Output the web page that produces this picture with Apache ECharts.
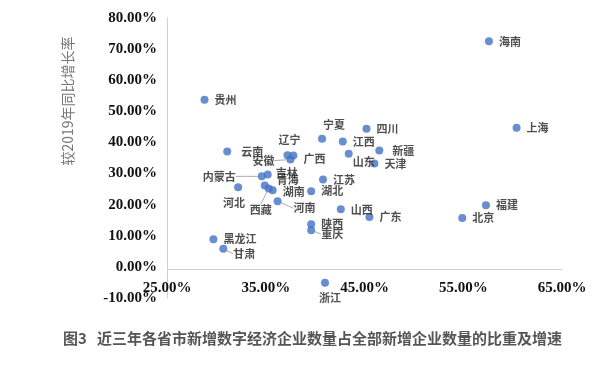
<!DOCTYPE html>
<html><head><meta charset="utf-8">
<script src="https://cdn.jsdelivr.net/npm/echarts@6/dist/echarts.min.js"></script>
<style>html,body{margin:0;padding:0;background:#fff}#c{width:611px;height:367px}</style>
</head><body><div id="c"></div>
<script>
const provinces = ['海南','上海','福建','北京','贵州','云南','辽宁','安徽','广西','内蒙古','吉林','青海','西藏','湖南','河北','河南','湖北','江苏','山西','广东','陕西','重庆','黑龙江','甘肃','浙江','宁夏','四川','江西','新疆','山东','天津'];
const shareRatio = [57.6,60.4,57.3,54.9,28.8,31.1,37.2,37.5,37.8,34.6,35.2,34.9,35.3,35.7,32.2,36.2,39.6,40.8,42.6,45.5,39.6,39.6,29.7,30.7,41.0,40.7,45.2,42.8,46.5,43.4,46.0];
const growthRate = [72.5,44.7,19.8,15.7,53.7,37.1,35.9,34.5,35.8,29.1,29.7,26.2,25.2,24.6,25.6,21.1,24.3,28.1,18.5,16.0,13.7,11.8,8.9,5.8,-5.1,41.2,44.4,40.3,37.4,36.4,33.2];
const xTicks = {min:25, max:65, interval:10};
const yTicks = {min:-10, max:80, interval:10};
const yName = '较2019年同比增长率';
const caption = '图3   近三年各省市新增数字经济企业数量占全部新增企业数量的比重及增速';

// label placement (style only): position, dx, dy, leader line
const placement = {
  '辽宁':['top',2,0,false], '安徽':['left',-6,1,true], '广西':['right',0,3,false],
  '内蒙古':['left',-16,0,true], '吉林':['right',-2,-2,false], '青海':['right',2,-6,false],
  '湖南':['right',0,1,false], '西藏':['bottom',-8,6,true], '河北':['bottom',-4,0,false],
  '河南':['right',6,7,true], '宁夏':['top',12,2,false], '山东':['right',-6,8,false],
  '新疆':['right',3,0,false], '重庆':['right',0,4,true], '甘肃':['right',0,5,true],
  '浙江':['bottom',5,0,false], '云南':['right',4,0,false]
};

const data = provinces.map((n,i)=>{
  const p = placement[n] || ['right',0,0,false];
  return {name:n, value:[shareRatio[i], growthRate[i]],
    label:{position:p[0]}, labelLine:{show:p[3]}};
});

const chart = echarts.init(document.getElementById('c'));
const pct = v => v.toFixed(2)+'%';
chart.setOption({
  animation:false,
  title:{text:caption, left:58, top:326, textStyle:{fontSize:15, fontWeight:'bold', color:'#555', fontFamily:'Noto Sans CJK SC'}},
  graphic:[{type:'text', x:68, y:101, rotation:Math.PI/2,
    style:{text:yName, fill:'#777', fontSize:14, fontFamily:'Noto Sans CJK SC', align:'center', verticalAlign:'middle'}}],
  grid:{left:167, right:49, top:18, bottom:69},
  xAxis:{type:'value', min:xTicks.min, max:xTicks.max, interval:xTicks.interval, offset:-29,
    axisLine:{show:true, onZero:false, lineStyle:{color:'#d0d0d0'}}, axisTick:{show:false}, splitLine:{show:false},
    axisLabel:{formatter:pct, margin:12, color:'#111', fontWeight:'bold', fontSize:15, fontFamily:'Liberation Serif'}},
  yAxis:{type:'value', min:yTicks.min, max:yTicks.max, interval:yTicks.interval,
    axisLine:{show:true, lineStyle:{color:'#d0d0d0'}}, axisTick:{show:false}, splitLine:{show:false},
    axisLabel:{formatter:pct, margin:10, color:'#111', fontWeight:'bold', fontSize:15, fontFamily:'Liberation Serif'}},
  series:[{type:'scatter', symbolSize:8, itemStyle:{color:'#4472C4'}, data:data,
    label:{show:true, formatter:'{b}', position:'right', distance:6, fontSize:11, color:'#222', fontWeight:'bold', fontFamily:'Noto Sans CJK SC'},
    labelLine:{show:false, lineStyle:{color:'#aaa', width:1}},
    labelLayout:function(params){
      const p = placement[provinces[params.dataIndex]];
      return p ? {dx:p[1], dy:p[2]} : {};
    }
  }]
});
</script></body></html>
